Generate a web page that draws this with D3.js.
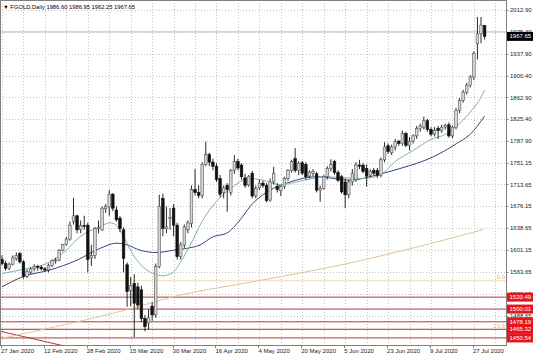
<!DOCTYPE html>
<html>
<head>
<meta charset="utf-8">
<script src="https://cdn.jsdelivr.net/npm/d3@7/dist/d3.min.js"></script>
<style>
  html, body { margin: 0; padding: 0; background: #ffffff; }
  svg { display: block; }
  text { font-family: "Liberation Sans", Arial, sans-serif; }
</style>
</head>
<body>
<div id="chart"></div>
<script>
// ----------------------------------------------------------
// Data (FGOLD, Daily)
// ----------------------------------------------------------
const title = "FGOLD,Daily  1986.60 1986.95 1962.25 1967.65";

const opens = [
  1585,1578,1570,1577,1586,1595,1581,1556,1563,1569,
  1573,1572,1569,1567,1575,1583,1584,1601,1611,1620,
  1650,1660,1636,1643,1644,1588,1592,1638,1636,1672,
  1675,1697,1670,1656,1636,1576,1532,1544,1538,1533,
  1484,1476,1505,1490,1573,1690,1638,1655,1673,1644,
  1590,1610,1636,1647,1705,1700,1695,1748,1765,1752,
  1745,1724,1700,1712,1700,1738,1753,1747,1725,1713,
  1733,1694,1708,1716,1712,1687,1718,1710,1703,1710,
  1724,1738,1758,1738,1751,1748,1728,1733,1732,1704,
  1707,1727,1741,1753,1734,1727,1718,1696,1718,1722,
  1747,1747,1741,1730,1738,1738,1730,1756,1780,1768,
  1778,1788,1784,1801,1781,1788,1797,1810,1812,1823,
  1808,1800,1810,1806,1812,1816,1797,1812,1841,1858,
  1872,1884,1898,1955,1972,1986.6
];
const highs = [
  1592,1583,1580,1592,1597,1598,1584,1568,1572,1577,
  1576,1575,1572,1578,1585,1588,1603,1612,1624,1650,
  1691,1662,1652,1660,1648,1610,1641,1652,1676,1680,
  1704,1699,1676,1660,1640,1580,1555,1560,1545,1540,
  1490,1500,1512,1578,1696,1698,1676,1673,1680,1648,
  1615,1645,1652,1712,1740,1712,1752,1787,1768,1758,
  1750,1730,1712,1716,1740,1764,1758,1750,1732,1730,
  1737,1712,1722,1720,1716,1724,1744,1716,1712,1727,
  1740,1756,1776,1754,1754,1752,1738,1740,1735,1712,
  1730,1745,1757,1756,1738,1730,1724,1722,1740,1752,
  1756,1750,1748,1740,1742,1742,1760,1786,1784,1782,
  1792,1790,1806,1804,1795,1800,1814,1818,1830,1826,
  1812,1812,1814,1816,1818,1820,1815,1845,1862,1876,
  1888,1901,1942,2001,2001,1986.95
];
const lows = [
  1575,1566,1567,1575,1583,1578,1552,1553,1560,1565,
  1566,1566,1564,1563,1572,1578,1582,1599,1609,1617,
  1645,1630,1630,1636,1563,1574,1586,1630,1634,1665,
  1660,1668,1650,1632,1563,1504,1505,1452,1500,1478,
  1462,1465,1480,1485,1570,1625,1630,1636,1625,1585,
  1585,1605,1630,1640,1695,1690,1690,1745,1745,1738,
  1718,1692,1690,1667,1695,1732,1738,1722,1708,1710,
  1690,1690,1704,1708,1683,1684,1714,1700,1694,1706,
  1720,1734,1734,1730,1730,1722,1724,1728,1700,1684,
  1705,1722,1736,1730,1718,1698,1673,1690,1712,1718,
  1740,1733,1710,1726,1730,1725,1726,1752,1766,1764,
  1772,1780,1780,1778,1772,1784,1792,1804,1808,1804,
  1796,1796,1792,1802,1808,1794,1793,1808,1836,1854,
  1868,1880,1893,1928,1956,1962.25
];
const closes = [
  1578,1570,1577,1588,1592,1581,1556,1565,1569,1573,
  1572,1569,1567,1575,1583,1584,1601,1611,1620,1644,
  1660,1636,1643,1642,1585,1592,1638,1640,1673,1676,
  1697,1673,1653,1638,1587,1530,1540,1510,1507,1484,
  1470,1485,1490,1573,1676,1638,1641,1657,1644,1590,
  1610,1641,1648,1705,1700,1695,1748,1765,1752,1745,
  1722,1697,1708,1705,1738,1753,1742,1727,1712,1727,
  1694,1707,1716,1712,1686,1718,1733,1705,1710,1724,
  1738,1753,1738,1750,1733,1727,1735,1736,1704,1707,
  1727,1741,1748,1734,1721,1701,1696,1718,1733,1747,
  1745,1736,1728,1736,1733,1729,1756,1778,1770,1778,
  1787,1784,1801,1781,1788,1797,1810,1814,1823,1808,
  1800,1806,1806,1812,1815,1797,1812,1841,1858,1872,
  1884,1898,1938,1972,1987,1967.65
];

// moving averages, sampled as [bar, price]
const fastMA = [
  [0,1561],[5,1567],[13.4,1581],[18,1601],[21.8,1624],[27.4,1641],[30.2,1648],
  [32,1644],[34,1624],[36.7,1593],[40.5,1567],[45,1557],[48,1564],[50,1581],
  [53.5,1620],[55.4,1644],[59.1,1678],[61,1691],[64.7,1710],[69,1724],[73,1721],
  [78,1713],[82.4,1718],[87,1724],[91,1727],[96,1725],[101,1724],[105.7,1730],
  [110.4,1755],[115,1772],[119.7,1790],[124.4,1801],[127,1813],[129,1824],
  [131,1838],[133.7,1860],[135,1876]
];
const slowMA = [
  [0,1538],[6,1556],[13.4,1567],[21,1584],[27.4,1604],[32,1613],[35,1610],
  [38.6,1601],[43.3,1597],[48,1601],[51.6,1604],[55.4,1610],[59,1624],
  [62.8,1630],[66.6,1653],[69.4,1676],[75,1704],[80.6,1718],[88,1727],
  [97.3,1721],[104.8,1730],[111.3,1741],[120.6,1761],[127.2,1784],[131,1800],
  [135,1831]
];
const longMA = [
  [0,1450],[34.4,1498],[49.8,1524],[69.4,1546],[97.3,1579],[123.4,1618],[134.5,1636]
];

// red trend line: two anchor points and the point where it leaves the chart
const trendLine = [[-0.5,1462],[16.5,1438],[33.5,1414]];
const levels = [1520.49, 1500.01, 1478.19, 1465.32, 1450.54];
const fibLevels = [["0.0", 1548.6], ["23.6", 1465.3]];
const greyLine = 1975.40;
const lastPrice = 1967.65;

const priceTicks = [2012.90,1975.40,1937.90,1900.40,1862.90,1825.40,1787.90,
  1751.15,1713.65,1676.15,1638.65,1601.15,1563.65,1526.15,1488.65];
const dateLabels = ["27 Jan 2020","12 Feb 2020","28 Feb 2020","15 Mar 2020",
  "30 Mar 2020","16 Apr 2020","4 May 2020","20 May 2020","5 Jun 2020",
  "23 Jun 2020","9 Jul 2020","27 Jul 2020"];
const barsPerLabel = 12;

// ----------------------------------------------------------
// Layout
// ----------------------------------------------------------
const W = 536, H = 357;
const plotR = 506.5, plotB = 345.5;

const svg = d3.select("#chart").append("svg")
  .attr("width", W).attr("height", H);

const x = d3.scaleLinear().domain([0, 135]).range([2, 484.6]);
const y = d3.scaleLinear().domain([1488.65, 2012.90]).range([315.7, 10]);

svg.append("clipPath").attr("id", "plot")
  .append("rect").attr("x", 0).attr("y", 0).attr("width", plotR).attr("height", plotB);

const g = svg.append("g").attr("clip-path", "url(#plot)");

// ----------------------------------------------------------
// Grid
// ----------------------------------------------------------
g.selectAll(".hgrid").data(priceTicks).enter().append("line")
  .attr("x1", 0).attr("x2", plotR)
  .attr("y1", d => Math.round(y(d)) + 0.5).attr("y2", d => Math.round(y(d)) + 0.5)
  .attr("stroke", "#c4c4c4").attr("stroke-dasharray", "1,2");

g.selectAll(".vgrid").data(d3.range(0, 139, barsPerLabel / 2)).enter().append("line")
  .attr("x1", d => Math.round(x(d)) + 0.5).attr("x2", d => Math.round(x(d)) + 0.5)
  .attr("y1", 0).attr("y2", plotB)
  .attr("stroke", "#c4c4c4").attr("stroke-dasharray", "1,2");

// ----------------------------------------------------------
// Horizontal levels, fib, trend line
// ----------------------------------------------------------
g.append("line")
  .attr("x1", 0).attr("x2", plotR)
  .attr("y1", y(greyLine)).attr("y2", y(greyLine))
  .attr("stroke", "#bdbdbd");

fibLevels.forEach(([lab, p]) => {
  g.append("line")
    .attr("x1", 0).attr("x2", plotR)
    .attr("y1", y(p)).attr("y2", y(p))
    .attr("stroke", "#efdcb0");
  g.append("text")
    .attr("x", 505).attr("y", y(p) - 1.8)
    .attr("text-anchor", "end")
    .attr("font-size", 6)
    .attr("fill", "#d9b878")
    .text(lab);
});

g.selectAll(".level").data(levels).enter().append("line")
  .attr("x1", 0).attr("x2", plotR)
  .attr("y1", d => y(d)).attr("y2", d => y(d))
  .attr("stroke", "#b33a3a").attr("stroke-width", 1);

g.append("path")
  .datum(trendLine)
  .attr("fill", "none").attr("stroke", "#b33a3a")
  .attr("d", d3.line().x(d => x(d[0])).y(d => y(d[1])));

// ----------------------------------------------------------
// Moving averages
// ----------------------------------------------------------
const maLine = d3.line().x(d => x(d[0])).y(d => y(d[1])).curve(d3.curveMonotoneX);

g.append("path").datum(longMA)
  .attr("fill", "none").attr("stroke", "#dfc49a").attr("d", maLine);
g.append("path").datum(slowMA)
  .attr("fill", "none").attr("stroke", "#3f3f80").attr("d", maLine);
g.append("path").datum(fastMA)
  .attr("fill", "none").attr("stroke", "#7fb3aa").attr("d", maLine);

// ----------------------------------------------------------
// Candles
// ----------------------------------------------------------
const bodyW = 2.6;
const bars = d3.range(opens.length);

g.selectAll(".wick").data(bars).enter().append("line")
  .attr("x1", i => x(i)).attr("x2", i => x(i))
  .attr("y1", i => y(highs[i])).attr("y2", i => y(lows[i]))
  .attr("stroke", "#111").attr("stroke-width", 0.9);

g.selectAll(".body").data(bars).enter().append("rect")
  .attr("x", i => x(i) - bodyW / 2)
  .attr("y", i => y(Math.max(opens[i], closes[i])))
  .attr("width", bodyW)
  .attr("height", i => Math.max(0.8, Math.abs(y(opens[i]) - y(closes[i]))))
  .attr("fill", i => closes[i] >= opens[i] ? "#d6d6d6" : "#111")
  .attr("stroke", i => closes[i] >= opens[i] ? "#555" : "#111")
  .attr("stroke-width", 0.6);

// ----------------------------------------------------------
// Frame + axes
// ----------------------------------------------------------
svg.append("rect")
  .attr("x", 0.5).attr("y", 0.5)
  .attr("width", plotR - 0.5).attr("height", plotB - 0.5)
  .attr("fill", "none").attr("stroke", "#808080");

svg.selectAll(".ptick").data(priceTicks).enter().append("line")
  .attr("x1", plotR).attr("x2", plotR + 2)
  .attr("y1", d => Math.round(y(d)) + 0.5).attr("y2", d => Math.round(y(d)) + 0.5)
  .attr("stroke", "#808080");

svg.selectAll(".plab").data(priceTicks).enter().append("text")
  .attr("x", 510).attr("y", d => y(d) + 2.1)
  .attr("font-size", 6)
  .attr("fill", "#222")
  .text(d => d.toFixed(2));

svg.selectAll(".dtick").data(dateLabels).enter().append("line")
  .attr("x1", (d, k) => Math.round(x(k * barsPerLabel)) - 0.5)
  .attr("x2", (d, k) => Math.round(x(k * barsPerLabel)) - 0.5)
  .attr("y1", plotB).attr("y2", plotB + 2.5)
  .attr("stroke", "#808080");

svg.selectAll(".dlab").data(dateLabels).enter().append("text")
  .attr("x", (d, k) => x(k * barsPerLabel) - 1)
  .attr("y", 352.5)
  .attr("font-size", 6)
  .attr("fill", "#222")
  .text(d => d);

// label boxes on the price scale
function priceBox(p, fill) {
  svg.append("rect")
    .attr("x", plotR + 0.5).attr("y", y(p) - 4.5)
    .attr("width", 26).attr("height", 9)
    .attr("fill", fill);
  svg.append("text")
    .attr("x", 509.5).attr("y", y(p) + 2.1)
    .attr("font-size", 6)
    .attr("fill", "#ffffff")
    .text(p.toFixed(2));
}
levels.forEach(p => priceBox(p, "#e8141c"));
priceBox(lastPrice, "#000000");

// title
svg.append("text")
  .attr("x", 3).attr("y", 9)
  .attr("font-size", 5.8)
  .attr("fill", "#000")
  .text("\u25BC " + title);
</script>
</body>
</html>
